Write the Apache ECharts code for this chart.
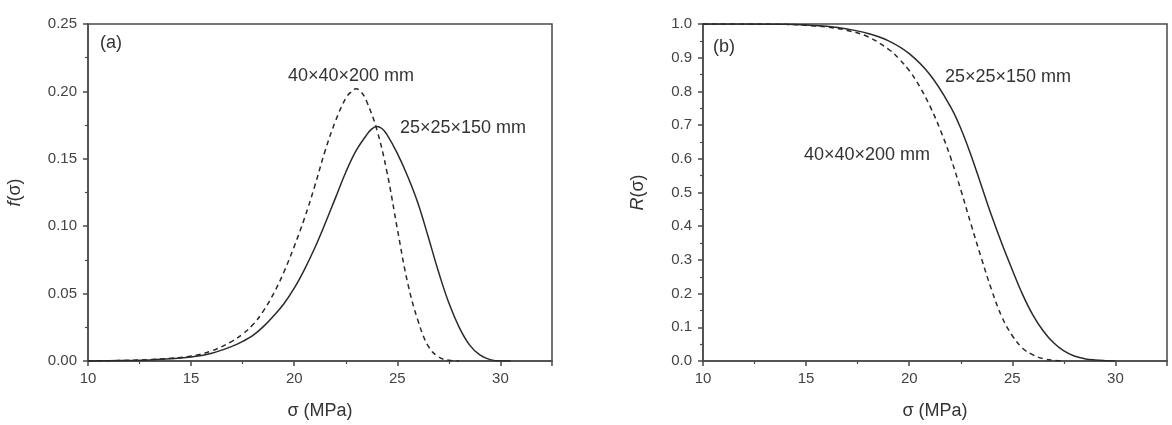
<!DOCTYPE html>
<html>
<head>
<meta charset="utf-8">
<script src="https://cdn.jsdelivr.net/npm/echarts@6/dist/echarts.min.js"></script>
<style>
  html, body { margin: 0; padding: 0; background: #fff; }
  #chart { width: 1172px; height: 425px; }
</style>
</head>
<body>
<div id="chart"></div>
<script>
// (a) probability density f(σ)
const pdfSmall = [ // 25×25×150 mm, solid
  [10, 0], [11, 0.0002], [12, 0.0004], [13, 0.0008], [14, 0.0016], [15, 0.003],
  [16, 0.0058], [17, 0.011], [17.5, 0.0146], [18, 0.019], [18.5, 0.0255], [19, 0.0335],
  [19.5, 0.0425], [20, 0.054], [20.5, 0.068], [21, 0.084], [21.5, 0.102], [22, 0.121],
  [22.5, 0.14], [23, 0.156], [23.5, 0.1675], [23.75, 0.172], [24, 0.174], [24.25, 0.1725],
  [24.5, 0.168], [25, 0.154], [25.5, 0.137], [26, 0.117], [26.5, 0.092], [27, 0.066],
  [27.5, 0.043], [28, 0.025], [28.5, 0.012], [29, 0.0045], [29.5, 0.001], [30, 0], [30.5, 0]
]
const pdfLarge = [ // 40×40×200 mm, dashed
  [10, 0], [11, 0.0002], [12, 0.0005], [13, 0.001], [14, 0.002], [15, 0.0037],
  [16, 0.0075], [17, 0.0148], [17.5, 0.02], [18, 0.027], [18.5, 0.037], [19, 0.05],
  [19.5, 0.066], [20, 0.085], [20.5, 0.106], [21, 0.13], [21.5, 0.156], [22, 0.178],
  [22.5, 0.195], [22.75, 0.1995], [23, 0.202], [23.25, 0.1995], [23.5, 0.193], [24, 0.172],
  [24.5, 0.14], [25, 0.098], [25.5, 0.058], [26, 0.03], [26.5, 0.011], [27, 0.003],
  [27.5, 0.0005], [28, 0]
]

// (b) reliability R(σ)
const relSmall = [
  [10, 1], [12, 1], [14, 0.999], [15, 0.997], [16, 0.993], [17, 0.985], [18, 0.972],
  [19, 0.95], [20, 0.912], [21, 0.85], [22, 0.755], [22.5, 0.69], [23, 0.61], [23.5, 0.52],
  [24, 0.43], [24.5, 0.347], [25, 0.27], [25.5, 0.197], [26, 0.136], [26.5, 0.089],
  [27, 0.054], [27.5, 0.03], [28, 0.015], [28.5, 0.007], [29, 0.003], [29.5, 0.001], [30, 0]
]
const relLarge = [
  [10, 1], [12, 1], [14, 0.999], [15, 0.996], [16, 0.991], [17, 0.981], [18, 0.962],
  [19, 0.925], [19.5, 0.897], [20, 0.862], [20.5, 0.815], [21, 0.757], [21.5, 0.687],
  [22, 0.605], [22.5, 0.508], [23, 0.405], [23.5, 0.305], [24, 0.21], [24.5, 0.13],
  [25, 0.075], [25.5, 0.038], [26, 0.018], [26.5, 0.007], [27, 0.002], [27.5, 0]
]

const xTicks = [10, 15, 20, 25, 30]
const labelSmall = '25×25×150 mm'
const labelLarge = '40×40×200 mm'

const font = 'Liberation Sans, Arial, sans-serif'
const axisColor = '#4a4a4a'
const lineColor = '#2a2a2a'

function xAxisOf(gridIndex) {
  return {
    type: 'value', gridIndex: gridIndex, min: 10, max: 32.5, interval: 5,
    name: 'σ (MPa)', nameLocation: 'middle', nameGap: 41,
    nameTextStyle: { fontFamily: font, fontSize: 18, color: '#333' },
    axisLine: { lineStyle: { color: axisColor, width: 1.5 } },
    axisTick: { length: 5, lineStyle: { color: axisColor, width: 1.5 } },
    minorTick: { show: true, splitNumber: 2, length: 3, lineStyle: { color: axisColor, width: 1.2 } },
    axisLabel: {
      fontFamily: font, fontSize: 15, color: '#444', margin: 10,
      formatter: v => xTicks.includes(v) ? String(v) : ''
    },
    splitLine: { show: false }
  }
}

function yAxisOf(gridIndex, max, interval, digits, nameRich, gap) {
  return {
    type: 'value', gridIndex: gridIndex, min: 0, max: max, interval: interval,
    name: nameRich, nameLocation: 'middle', nameGap: gap,
    nameTextStyle: {
      fontFamily: font, fontSize: 18, color: '#333',
      rich: { i: { fontFamily: font, fontSize: 18, fontStyle: 'italic', color: '#333' } }
    },
    axisLine: { lineStyle: { color: axisColor, width: 1.5 } },
    axisTick: { length: 5, lineStyle: { color: axisColor, width: 1.5 } },
    minorTick: { show: true, splitNumber: 2, length: 3, lineStyle: { color: axisColor, width: 1.2 } },
    axisLabel: {
      fontFamily: font, fontSize: 15, color: '#444', margin: 11,
      formatter: v => v.toFixed(digits)
    },
    splitLine: { show: false }
  }
}

function curve(data, xi, dashed) {
  return {
    type: 'line', xAxisIndex: xi, yAxisIndex: xi, data: data,
    symbol: 'none', smooth: 0.4, silent: true,
    lineStyle: { color: lineColor, width: 1.5, type: dashed ? [5, 4] : 'solid' }
  }
}

function note(text, left, top) {
  return {
    type: 'text', left: left, top: top,
    style: { text: text, fontFamily: font, fontSize: 18, fill: '#333' }
  }
}

const chart = echarts.init(document.getElementById('chart'))
chart.setOption({
  animation: false,
  backgroundColor: '#fff',
  grid: [
    { left: 88, right: 620, top: 24, bottom: 58, show: true, borderColor: axisColor, borderWidth: 1.5 },
    { left: 703, right: 5, top: 24, bottom: 59, show: true, borderColor: axisColor, borderWidth: 1.5 }
  ],
  xAxis: [xAxisOf(0), xAxisOf(1)],
  yAxis: [
    yAxisOf(0, 0.25, 0.05, 2, '{i|f}(σ)', 64),
    yAxisOf(1, 1.0, 0.1, 1, '{i|R}(σ)', 56)
  ],
  series: [
    curve(pdfSmall, 0, false),
    curve(pdfLarge, 0, true),
    curve(relSmall, 1, false),
    curve(relLarge, 1, true)
  ],
  graphic: [
    note('(a)', 100, 34),
    note(labelLarge, 288, 67),
    note(labelSmall, 400, 119),
    note('(b)', 713, 38),
    note(labelSmall, 945, 68),
    note(labelLarge, 804, 146)
  ]
})
</script>
</body>
</html>
